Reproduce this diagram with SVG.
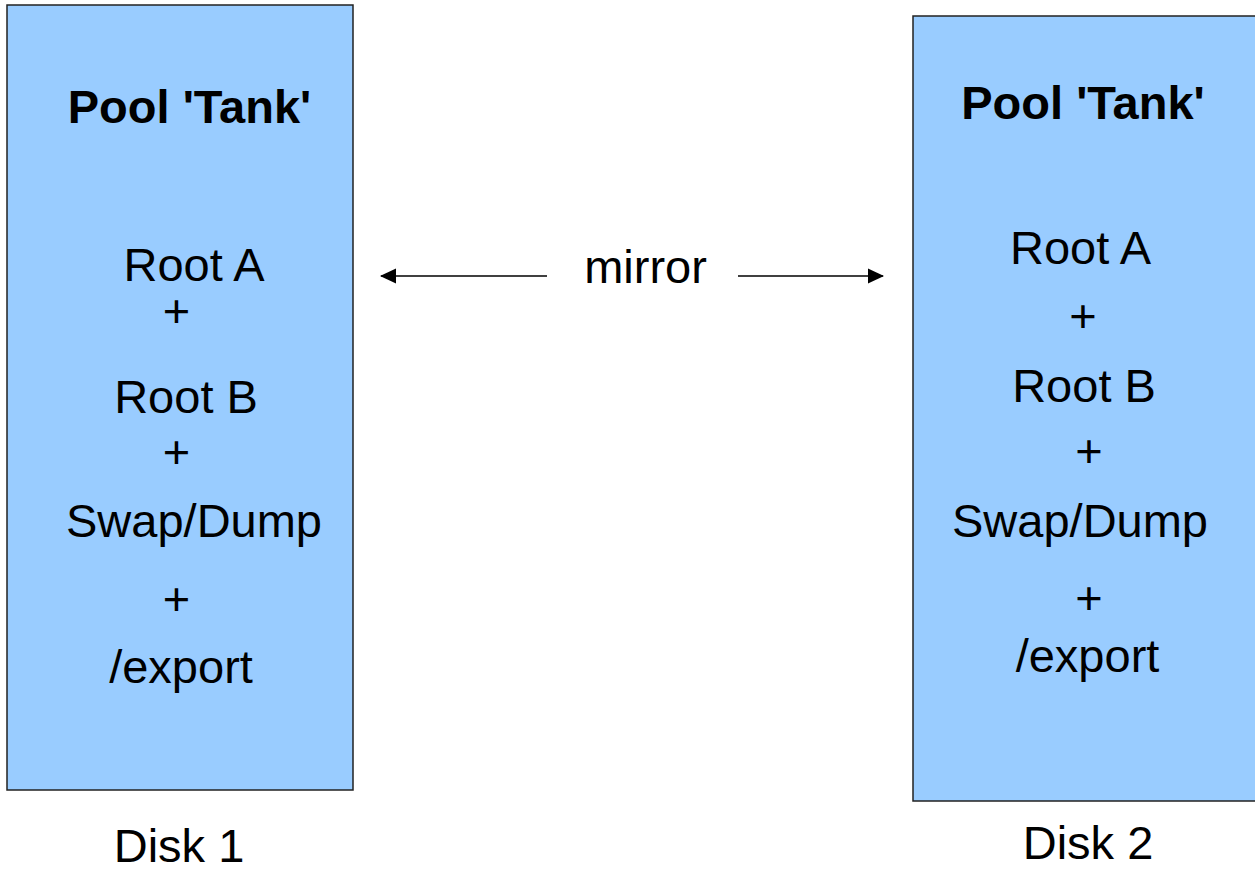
<svg xmlns="http://www.w3.org/2000/svg" width="1255" height="869" viewBox="0 0 1255 869">
<style>
.box{fill:#99ccff;stroke:#222;stroke-width:1.5}
.t{font-family:"Liberation Sans",Arial,sans-serif;font-size:47px;fill:#000;text-anchor:middle}
.b{font-weight:bold}
.conn{stroke:#000;stroke-width:1.5;fill:none}
</style>
<defs>
<marker id="ah" viewBox="0 0 16 16" refX="15" refY="8" markerWidth="16" markerHeight="16" markerUnits="userSpaceOnUse" orient="auto">
<path d="M0,0.5 L16,8 L0,15.5 Z" fill="#000"/>
</marker>
</defs>
<rect width="1255" height="869" fill="#fff"/>
<g id="disk1">
<rect class="box" x="7" y="5" width="346" height="785"/>
<text class="t b" x="189.5" y="123">Pool 'Tank'</text>
<text class="t" x="194" y="280.5">Root A</text>
<text class="t" x="176.5" y="326.5">+</text>
<text class="t" x="186" y="412.5">Root B</text>
<text class="t" x="176.5" y="468">+</text>
<text class="t" x="194" y="537">Swap/Dump</text>
<text class="t" x="176.5" y="614.5">+</text>
<text class="t" x="181" y="683">/export</text>
<text class="t" x="179" y="862">Disk 1</text>
</g>
<g id="disk2">
<rect class="box" x="913" y="16" width="350" height="785"/>
<text class="t b" x="1083" y="119">Pool 'Tank'</text>
<text class="t" x="1080.5" y="264">Root A</text>
<text class="t" x="1083" y="331.5">+</text>
<text class="t" x="1084" y="401.5">Root B</text>
<text class="t" x="1089" y="467">+</text>
<text class="t" x="1080" y="537">Swap/Dump</text>
<text class="t" x="1089" y="613.5">+</text>
<text class="t" x="1087.5" y="671.5">/export</text>
<text class="t" x="1088" y="859">Disk 2</text>
</g>
<g id="connectors">
<line class="conn" x1="547" y1="276" x2="381" y2="276" marker-end="url(#ah)"/>
<line class="conn" x1="738" y1="276" x2="883" y2="276" marker-end="url(#ah)"/>
</g>
<g id="label-mirror">
<text class="t" x="645.5" y="283">mirror</text>
</g>
</svg>
